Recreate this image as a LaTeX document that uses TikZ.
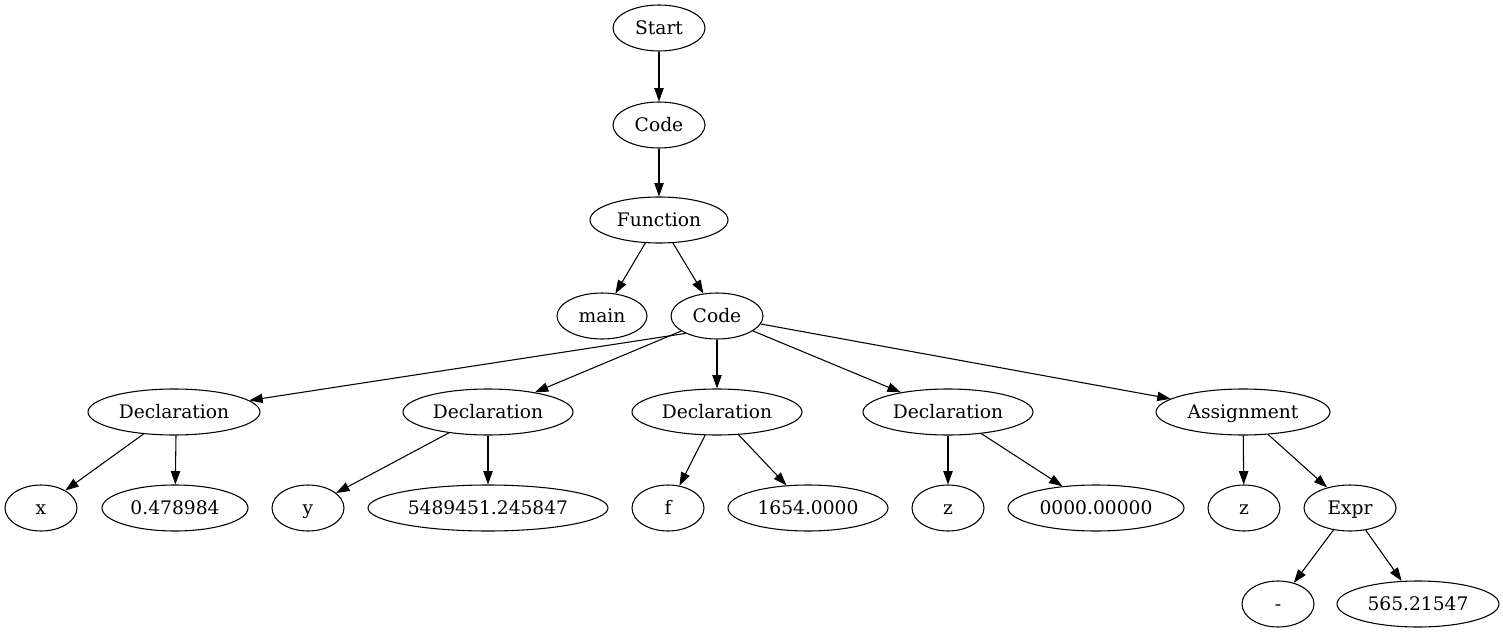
\documentclass[tikz,border=0pt]{standalone}
\usepackage{fontspec}
\setmainfont{DejaVu Serif}
\usetikzlibrary{shapes.geometric,arrows.meta}
\begin{document}
\begin{tikzpicture}[x=0.75pt,y=-0.75pt,
  nd/.style={draw,ellipse,inner sep=0pt,minimum height=34.5pt,line width=0.8pt,text height=11pt,text depth=1pt,font=\fontsize{14pt}{16pt}\selectfont},
  w/.style={nd,minimum width=#1*0.75pt},
  edge/.style={line width=0.8pt,-{Triangle[length=10pt,width=7pt]}}]
\useasboundingbox (0,0) rectangle (1503,635);
\node[w=92] (start) at (659,28) {Start};
\node[w=92] (code1) at (659,125) {Code};
\node[w=138] (func) at (659,220) {Function};
\node[w=90] (main) at (602,316) {main};
\node[w=92] (code2) at (717,316) {Code};
\node[w=172] (d1) at (174,412) {Declaration};
\node[w=170] (d2) at (488,412) {Declaration};
\node[w=170] (d3) at (717,412) {Declaration};
\node[w=170] (d4) at (948,412) {Declaration};
\node[w=174] (as) at (1243,412) {Assignment};
\node[w=72] (x) at (41,508) {x};
\node[w=146] (v1) at (175,508) {0.478984};
\node[w=72] (y) at (308,508) {y};
\node[w=240] (v2) at (488,508) {5489451.245847};
\node[w=72] (f) at (668,508) {f};
\node[w=160] (v3) at (808,508) {1654.0000};
\node[w=72] (z) at (948,508) {z};
\node[w=176] (v4) at (1096,508) {0000.00000};
\node[w=72] (z2) at (1244,508) {z};
\node[w=92] (expr) at (1350,508) {Expr};
\node[w=72] (minus) at (1278,604) {-};
\node[w=162] (v5) at (1418,604) {565.21547};
\draw[edge] (start) -- (code1);
\draw[edge] (code1) -- (func);
\draw[edge] (func) -- (main);
\draw[edge] (func) -- (code2);
\draw[edge] (code2.-151) -- (d1);
\draw[edge] (code2) -- (d2);
\draw[edge] (code2) -- (d3);
\draw[edge] (code2) -- (d4);
\draw[edge] (code2) -- (as);
\draw[edge] (d1) -- (x);
\draw[edge] (d1.south) ++(2,0) coordinate (d1s) (d1s) -- (v1);
\draw[edge] (d2) -- (y);
\draw[edge] (d2) -- (v2);
\draw[edge] (d3) -- (f);
\draw[edge] (d3) -- (v3);
\draw[edge] (d4) -- (z);
\draw[edge] (d4) -- (v4);
\draw[edge] (as) -- (z2);
\draw[edge] (as) -- (expr);
\draw[edge] (expr) -- (minus);
\draw[edge] (expr) -- (v5);
\end{tikzpicture}
\end{document}
